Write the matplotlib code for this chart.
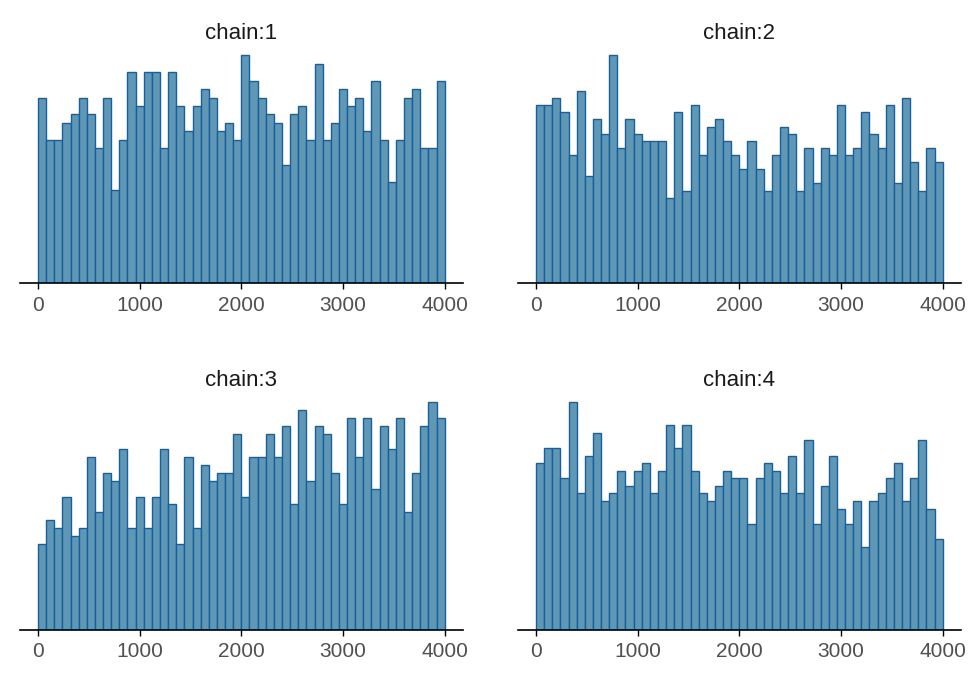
import matplotlib

matplotlib.use("Agg")
import matplotlib.pyplot as plt
import numpy as np

plt.rcParams["font.family"] = ["Liberation Sans", "DejaVu Sans"]

# rank histogram counts, 50 bins over ranks 0..4000 (1000 draws per chain)
chain1 = [22, 17, 17, 19, 20, 22, 20, 16, 22, 11,
          17, 25, 21, 25, 25, 16, 25, 21, 18, 21,
          23, 22, 18, 19, 17, 27, 24, 22, 20, 19,
          14, 20, 21, 17, 26, 17, 19, 23, 21, 22,
          18, 24, 17, 12, 17, 22, 23, 16, 16, 24]
chain2 = [25, 25, 26, 24, 18, 27, 15, 23, 21, 32,
          19, 23, 21, 20, 20, 20, 12, 24, 13, 25,
          18, 22, 23, 20, 18, 16, 20, 16, 13, 18,
          22, 21, 13, 19, 14, 19, 18, 25, 18, 19,
          24, 21, 19, 25, 14, 26, 17, 13, 19, 17]
chain3 = [11, 14, 13, 17, 12, 13, 22, 15, 20, 19,
          23, 13, 17, 13, 17, 23, 16, 11, 22, 13,
          21, 19, 20, 20, 25, 17, 22, 22, 25, 22,
          26, 16, 28, 19, 26, 25, 20, 16, 27, 22,
          27, 18, 26, 23, 27, 15, 20, 26, 29, 27]
chain4 = [22, 24, 24, 20, 30, 18, 23, 26, 17, 18,
          21, 19, 21, 22, 18, 21, 27, 24, 27, 21,
          18, 17, 19, 21, 20, 20, 14, 20, 22, 21,
          18, 23, 18, 25, 14, 19, 23, 16, 14, 17,
          11, 17, 18, 20, 22, 17, 20, 25, 16, 12]

chains = [chain1, chain2, chain3, chain4]
titles = ["chain:1", "chain:2", "chain:3", "chain:4"]
rank_max = 4000
xticks = [0, 1000, 2000, 3000, 4000]

fill_color = "#5f97b5"
edge_color = "#16609f"

fig = plt.figure(figsize=(9.75, 6.75), dpi=100)

# axes boxes in figure fractions: left, bottom, width, height
boxes = [
    (0.0205, 0.5807, 0.454, 0.354),
    (0.5313, 0.5807, 0.454, 0.354),
    (0.0205, 0.0667, 0.454, 0.354),
    (0.5313, 0.0667, 0.454, 0.354),
]

for counts, title, box in zip(chains, titles, boxes):
    ax = fig.add_axes(box)
    counts = np.asarray(counts)
    edges = np.linspace(0, rank_max, len(counts) + 1)
    ax.bar(edges[:-1], counts, width=np.diff(edges), align="edge",
           color=fill_color, edgecolor=edge_color, linewidth=1.0)
    ax.set_xlim(-177, rank_max + 177)
    ax.set_ylim(0, counts.max() * 1.05)
    ax.set_xticks(xticks)
    ax.set_yticks([])
    for side in ["left", "right", "top"]:
        ax.spines[side].set_visible(False)
    ax.spines["bottom"].set_linewidth(1.2)
    ax.tick_params(axis="x", length=4, width=1, labelsize=15,
                   labelcolor="#505050", pad=5)
    ax.set_title(title, fontsize=16, color="#1a1a1a", pad=1)

fig.savefig("out.png", dpi=100)
